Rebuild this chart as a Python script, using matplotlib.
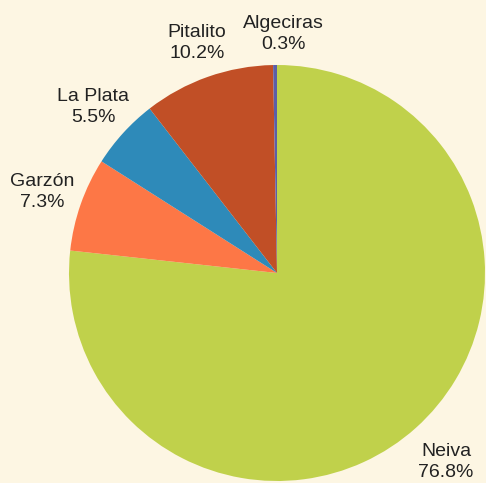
import matplotlib.pyplot as plt

labels = ['Neiva', 'Garzón', 'La Plata', 'Pitalito', 'Algeciras']
shares = [76.8, 7.3, 5.5, 10.2, 0.3]
colors = ['#c0d14b', '#fd7746', '#2e8ab9', '#c14f26', '#5b5fa8']
# label centres in pixels (x, y from top)
label_pos = [(446, 462), (42, 192), (93, 107), (197, 43), (283, 34)]

W, H = 486, 483
bg = '#fdf6e3'
fig = plt.figure(figsize=(W / 100, H / 100), dpi=100, facecolor=bg)
ax = fig.add_axes([0, 0, 1, 1])
ax.set_facecolor(bg)

ax.pie(shares, colors=colors, startangle=90, counterclock=False,
       center=(277, H - 273), radius=208, frame=True,
       wedgeprops=dict(linewidth=0))
ax.set_xlim(0, W)
ax.set_ylim(0, H)
ax.set_aspect('equal')
ax.axis('off')

for name, v, (px, py) in zip(labels, shares, label_pos):
    ax.text(px, H - py, f'{name}\n{v:.1f}%', ha='center', va='center',
            fontsize=14, family='Liberation Sans', color='#222222',
            linespacing=1.25)

fig.savefig('out.png', dpi=100, facecolor=bg)
